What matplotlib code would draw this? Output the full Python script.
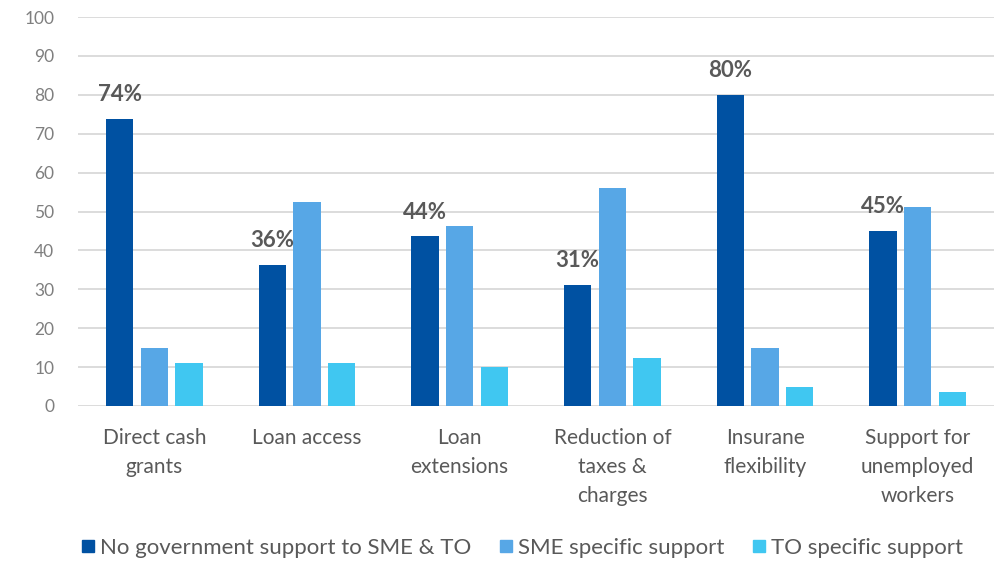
import matplotlib
matplotlib.use("Agg")
import matplotlib.pyplot as plt
import numpy as np
from matplotlib.lines import Line2D

categories = ["Direct cash\ngrants", "Loan access", "Loan\nextensions",
              "Reduction of\ntaxes &\ncharges", "Insurane\nflexibility",
              "Support for\nunemployed\nworkers"]
series_names = ["No government support to SME & TO", "SME specific support", "TO specific support"]
no_gov = [73.7, 36.2, 43.6, 31.1, 79.9, 44.9]
sme = [14.9, 52.4, 46.2, 56.1, 14.9, 51.2]
to = [11.1, 11.1, 9.9, 12.3, 4.9, 3.7]
labels = ["74%", "36%", "44%", "31%", "80%", "45%"]
yticks = [0, 10, 20, 30, 40, 50, 60, 70, 80, 90, 100]

colors = ["#0051A2", "#57A7E6", "#40C7F1"]

plt.rcParams['font.family'] = ['Lato', 'DejaVu Sans']

fig = plt.figure(figsize=(9.94, 5.61), dpi=100)
ax = fig.add_axes([78/994, 1-406/561, 1-78/994, (406-17)/561])

x = np.arange(len(categories))
w = 0.178
step = 0.227
for i, (vals, c) in enumerate(zip([no_gov, sme, to], colors)):
    ax.bar(x + (i-1)*step, vals, width=w, color=c, zorder=3, label=series_names[i])

for xi, v, lab in zip(x, no_gov, labels):
    ax.annotate(lab, (xi - step, v), xytext=(0, 10), textcoords='offset points',
                ha='center', va='bottom', fontsize=16, fontweight='bold', color='#595959')

ax.set_xlim(-0.5, len(categories)-0.5)
ax.set_ylim(0, 100)
ax.set_yticks(yticks)
ax.set_yticklabels([str(t) for t in yticks])
ax.grid(axis='y', color='#d9d9d9', lw=1.3, zorder=0)
for s in ax.spines.values():
    s.set_visible(False)
ax.tick_params(axis='y', length=0, pad=17, labelsize=12.5, labelcolor='#7f7f7f')
ax.set_xticks(x)
ax.set_xticklabels(categories, fontsize=15, color='#595959', linespacing=1.55)
ax.tick_params(axis='x', length=0, pad=16)

handles = [Line2D([], [], ls='none', marker='s', markersize=9, color=c) for c in colors]
fig.legend(handles, series_names, loc='lower center', bbox_to_anchor=(0.525, -0.03),
           ncol=3, frameon=False, fontsize=16, labelcolor='#595959',
           handlelength=0.6, handletextpad=0.25, columnspacing=1.25)

fig.savefig("out.png", dpi=100)
